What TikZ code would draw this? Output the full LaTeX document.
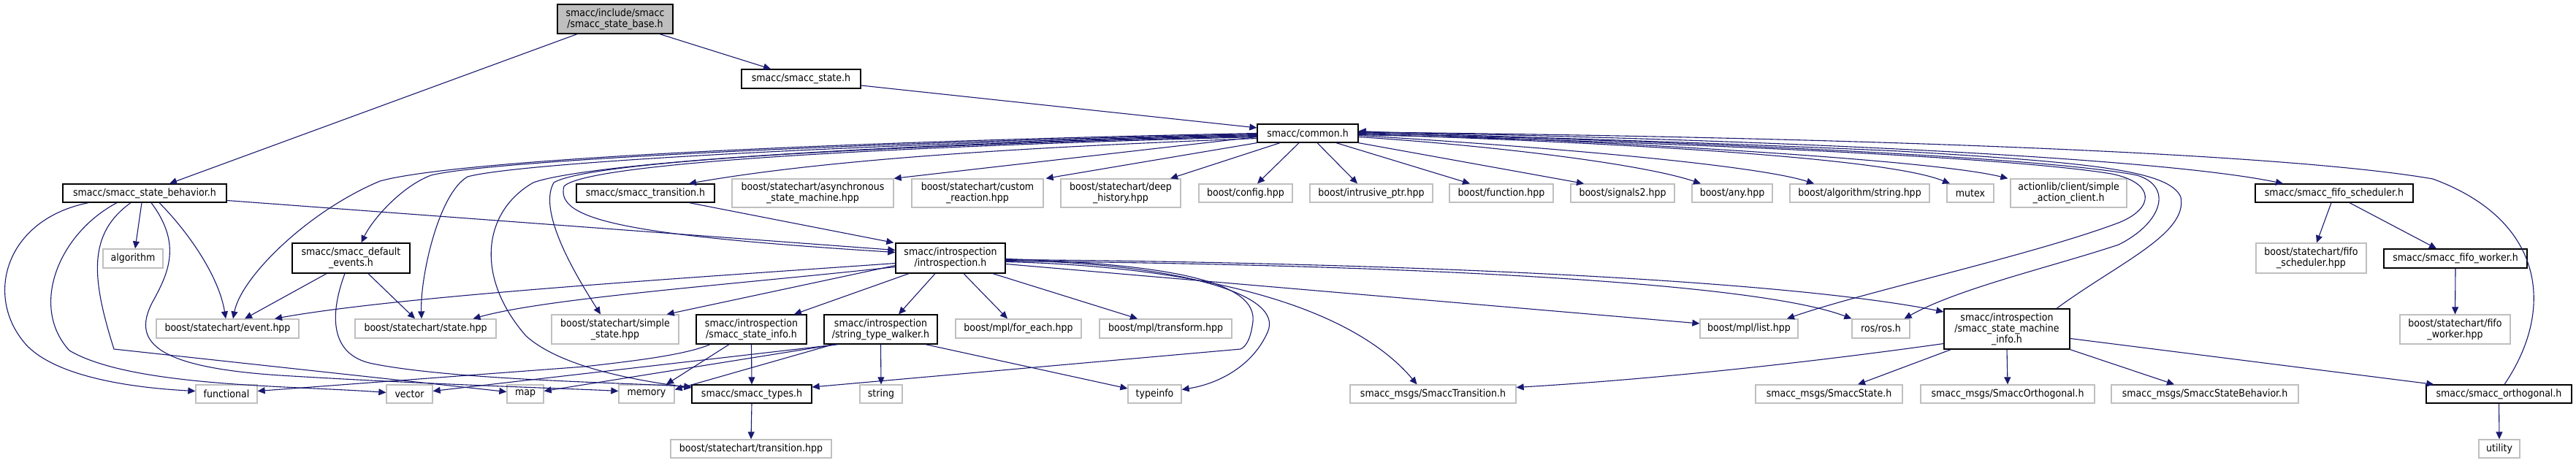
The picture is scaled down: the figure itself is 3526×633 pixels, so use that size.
\documentclass[tikz,border=0pt]{standalone}
\usepackage{fontspec}
\setmainfont{DejaVu Sans}[FakeStretch=0.9]
\usetikzlibrary{arrows.meta}

\definecolor{edgeblue}{HTML}{191970}
\definecolor{boxgray}{HTML}{BFBFBF}

\begin{document}
\begin{tikzpicture}[
    x=1pt, y=-1pt,
    font=\fontsize{14}{15}\selectfont,
    hdr/.style={rectangle, draw=black, line width=1.3pt, fill=white,
      inner sep=0pt, align=center, minimum height=25},
    sys/.style={rectangle, draw=boxgray, line width=1.3pt, fill=white,
      inner sep=0pt, align=center, minimum height=25},
    dep/.style={draw=edgeblue, line width=1.1pt, -{Triangle[length=10pt,width=9pt]}}
  ]
  \fill[white] (0,0) rectangle (3526,633);
  \useasboundingbox (0,0) rectangle (3526,633);

  % top
  \node[hdr, fill=boxgray, minimum width=158, minimum height=40] (root) at (842,26) {smacc/include/smacc\\/smacc\_state\_base.h};
  \node[hdr, minimum width=163, minimum height=26] (state) at (1096.5,108) {smacc/smacc\_state.h};
  \node[hdr, minimum width=138] (common) at (1790,182.5) {smacc/common.h};

  % first row
  \node[hdr, minimum width=224] (behav) at (198,264.5) {smacc/smacc\_state\_behavior.h};
  \node[hdr, minimum width=189] (trans) at (883.5,264.5) {smacc/smacc\_transition.h};
  \node[sys, minimum width=221, minimum height=39] (async) at (1112.5,264.5) {boost/statechart/asynchronous\\\_state\_machine.hpp};
  \node[sys, minimum width=180, minimum height=39] (custom) at (1338,264.5) {boost/statechart/custom\\\_reaction.hpp};
  \node[sys, minimum width=164, minimum height=39] (deep) at (1534,264.5) {boost/statechart/deep\\\_history.hpp};
  \node[sys, minimum width=128] (config) at (1705,264.5) {boost/config.hpp};
  \node[sys, minimum width=168] (intrusive) at (1877,264.5) {boost/intrusive\_ptr.hpp};
  \node[sys, minimum width=142] (function) at (2055,264.5) {boost/function.hpp};
  \node[sys, minimum width=142] (signals) at (2221,264.5) {boost/signals2.hpp};
  \node[sys, minimum width=110] (any) at (2371,264.5) {boost/any.hpp};
  \node[sys, minimum width=191] (algstr) at (2545.5,264.5) {boost/algorithm/string.hpp};
  \node[sys, minimum width=64] (mutex) at (2697,264.5) {mutex};
  \node[sys, minimum width=159, minimum height=39] (actionlib) at (2831.5,264.5) {actionlib/client/simple\\\_action\_client.h};
  \node[hdr, minimum width=216] (fifosch) at (3195,264.5) {smacc/smacc\_fifo\_scheduler.h};

  % second row
  \node[sys, minimum width=82, minimum height=26] (algorithm) at (182,354) {algorithm};
  \node[hdr, minimum width=161, minimum height=41] (defev) at (480.5,353.5) {smacc/smacc\_default\\\_events.h};
  \node[hdr, minimum width=150, minimum height=41] (intro) at (1301,353.5) {smacc/introspection\\/introspection.h};
  \node[sys, minimum width=151, minimum height=41] (fifoschhpp) at (3163.5,353.5) {boost/statechart/fifo\\\_scheduler.hpp};
  \node[hdr, minimum width=196, minimum height=26] (fifowrk) at (3361,354) {smacc/smacc\_fifo\_worker.h};

  % third row
  \node[sys, minimum width=195, minimum height=26] (event) at (311.5,450) {boost/statechart/event.hpp};
  \node[sys, minimum width=193, minimum height=26] (statehpp) at (582.5,450) {boost/statechart/state.hpp};
  \node[sys, minimum width=174, minimum height=40] (simple) at (842,451) {boost/statechart/simple\\\_state.hpp};
  \node[hdr, minimum width=151, minimum height=40] (sinfo) at (1028.5,451) {smacc/introspection\\/smacc\_state\_info.h};
  \node[hdr, minimum width=155, minimum height=40] (walker) at (1205.5,451) {smacc/introspection\\/string\_type\_walker.h};
  \node[sys, minimum width=172, minimum height=26] (foreach) at (1394,450) {boost/mpl/for\_each.hpp};
  \node[sys, minimum width=181, minimum height=26] (transform) at (1595.5,450) {boost/mpl/transform.hpp};
  \node[sys, minimum width=134, minimum height=26] (mpllist) at (2394,450) {boost/mpl/list.hpp};
  \node[sys, minimum width=79, minimum height=26] (ros) at (2574.5,450) {ros/ros.h};
  \node[hdr, minimum width=172, minimum height=55] (sminfo) at (2747,450.5) {smacc/introspection\\/smacc\_state\_machine\\\_info.h};
  \node[sys, minimum width=151, minimum height=40] (fifowrkhpp) at (3360.5,451) {boost/statechart/fifo\\\_worker.hpp};

  % fourth row
  \node[sys, minimum width=84] (functional) at (310,539.5) {functional};
  \node[sys, minimum width=63] (vector) at (560.5,539.5) {vector};
  \node[sys, minimum width=50] (map) at (719,539.5) {map};
  \node[sys, minimum width=76] (memory) at (885,539.5) {memory};
  \node[hdr, minimum width=164] (types) at (1029,539.5) {smacc/smacc\_types.h};
  \node[sys, minimum width=58] (string) at (1206,539.5) {string};
  \node[sys, minimum width=73] (typeinfo) at (1580.5,539.5) {typeinfo};
  \node[sys, minimum width=227] (msgtrans) at (1961.5,539.5) {smacc\_msgs/SmaccTransition.h};
  \node[sys, minimum width=201] (msgstate) at (2503.5,539.5) {smacc\_msgs/SmaccState.h};
  \node[sys, minimum width=238] (msgorth) at (2748,539.5) {smacc\_msgs/SmaccOrthogonal.h};
  \node[sys, minimum width=256] (msgbeh) at (3018,539.5) {smacc\_msgs/SmaccStateBehavior.h};
  \node[hdr, minimum width=199] (orth) at (3420.5,539.5) {smacc/smacc\_orthogonal.h};

  % bottom
  \node[sys, minimum width=220] (transhpp) at (1028,614.5) {boost/statechart/transition.hpp};
  \node[sys, minimum width=56] (utility) at (3421,614.5) {utility};

  % root and smacc_state.h
  \draw[dep] ([xshift=-52]root.south) -- ([xshift=34]behav.north);
  \draw[dep] ([xshift=61]root.south) -- ([xshift=-41.5]state.north);
  \draw[dep] ([yshift=-9]state.east) -- ([yshift=7.5]common.west);

  % common.h, first row
  \draw[dep] ([yshift=-7]common.west) .. controls (1450,200) and (1150,215) .. ([xshift=59.5]trans.north);
  \draw[dep] ([yshift=-5]common.west) -- (async.north east);
  \draw[dep] (common.south west) -- ([xshift=3]custom.north east);
  \draw[dep] ([xshift=-38]common.south) -- ([xshift=68]deep.north);
  \draw[dep] ([xshift=-12]common.south) -- ([xshift=16]config.north);
  \draw[dep] ([xshift=13]common.south) -- ([xshift=-19]intrusive.north);
  \draw[dep] ([xshift=39]common.south) -- ([xshift=-43]function.north);
  \draw[dep] (common.south east) -- ([xshift=-53]signals.north);
  \draw[dep] ([yshift=-5]common.east) .. controls (2050,200) and (2250,225) .. ([xshift=-43]any.north);
  \draw[dep] ([yshift=-3]common.east) .. controls (2100,200) and (2400,225) .. ([xshift=-62.5]algstr.north);
  \draw[dep] ([yshift=-1]common.east) .. controls (2200,195) and (2580,215) .. ([xshift=-28]mutex.north);
  \draw[dep] ([yshift=1]common.east) .. controls (2250,195) and (2650,220) .. ([xshift=-3]actionlib.north west);
  \draw[dep] ([yshift=2]common.east) .. controls (2400,190) and (2950,215) .. ([xshift=-70]fifosch.north);

  % includes back into common.h
  \draw[dep] ([xshift=7.5]orth.north) .. controls (3500,420) and (3480,300) .. (3330,245)
    .. controls (3100,205) and (2400,186) .. ([yshift=1.5]common.east);
  \draw[dep] ([xshift=68]sminfo.north) .. controls (2900,360) and (2995,320) .. (2985,270)
    .. controls (2970,232) and (2850,222) .. (2600,207)
    .. controls (2300,193) and (2000,186) .. ([yshift=3]common.east);

  % common.h loops to the right
  \draw[dep] ([yshift=-2]common.east) .. controls (2300,195) and (2750,215) .. (2890,238)
    .. controls (2950,250) and (2950,285) .. (2900,305)
    .. controls (2780,350) and (2550,400) .. ([xshift=52]mpllist.north);
  \draw[dep] (common.east) .. controls (2300,193) and (2800,215) .. (2925,240)
    .. controls (2975,255) and (2960,305) .. (2900,335)
    .. controls (2810,365) and (2680,395) .. ([xshift=32]ros.north);

  % common.h sweeps to the left
  \draw[dep] (common.west) .. controls (1100,195) and (620,220) .. (520,248)
    .. controls (420,290) and (330,380) .. ([xshift=7.5]event.north);
  \draw[dep] ([yshift=-1]common.west) .. controls (1100,197) and (660,222) .. (590,240)
    .. controls (550,255) and (510,300) .. ([xshift=14]defev.north);
  \draw[dep] ([yshift=-2]common.west) .. controls (1100,199) and (700,225) .. (640,242)
    .. controls (600,265) and (575,380) .. ([xshift=-5.5]statehpp.north);
  \draw[dep] ([yshift=-3]common.west) .. controls (1100,200) and (790,228) .. (730,250)
    .. controls (660,290) and (650,380) .. (720,460)
    .. controls (770,505) and (880,522) .. ([yshift=8.5]types.west);
  \draw[dep] ([yshift=-4]common.west) .. controls (1100,202) and (800,225) .. (758,250)
    .. controls (735,290) and (790,380) .. ([xshift=-20]simple.north);
  \draw[dep] ([yshift=-5]common.west) .. controls (1100,204) and (800,228) .. (772,255)
    .. controls (760,300) and (850,322) .. ([yshift=8]intro.west);

  % smacc_state_behavior.h
  \draw[dep] ([xshift=-77]behav.south) .. controls (10,300) and (-20,400) .. (30,465)
    .. controls (70,520) and (200,532) .. ([yshift=4]functional.west);
  \draw[dep] ([xshift=-38]behav.south) .. controls (80,320) and (40,420) .. (95,480)
    .. controls (180,530) and (400,528) .. ([yshift=2]vector.west);
  \draw[dep] ([xshift=-19]behav.south) .. controls (120,320) and (125,380) .. (156,478) -- ([yshift=3]map.west);
  \draw[dep] ([xshift=-4]behav.south) -- ([xshift=3]algorithm.north);
  \draw[dep] ([xshift=9]behav.south) .. controls (250,335) and (230,375) .. (208,415)
    .. controls (180,470) and (215,505) .. (400,515)
    .. controls (600,527) and (780,532) .. ([yshift=4]memory.west);
  \draw[dep] ([xshift=20]behav.south) .. controls (260,320) and (300,380) .. ([xshift=-2.5]event.north);
  \draw[dep] ([yshift=-10]behav.east) -- ([yshift=11]intro.west);

  % default events, transition
  \draw[dep] ([xshift=-33.5]defev.south) -- ([xshift=23.5]event.north);
  \draw[dep] ([xshift=23.5]defev.south) -- ([xshift=-14.5]statehpp.north);
  \draw[dep] ([xshift=-8.5]defev.south) .. controls (455,420) and (445,485) .. (510,498)
    .. controls (620,520) and (850,524) .. ([yshift=10]types.west);
  \draw[dep] ([xshift=60]trans.south) -- ([xshift=-2]intro.north west);

  % introspection.h
  \draw[dep] ([yshift=-10]intro.west) -- ([xshift=-17]simple.north east);
  \draw[dep] ([yshift=-12]intro.west) .. controls (1000,390) and (750,408) .. ([xshift=65]statehpp.north);
  \draw[dep] ([yshift=-7]intro.west) .. controls (950,380) and (550,405) .. ([xshift=64.5]event.north);
  \draw[dep] ([xshift=-57]intro.south) -- ([xshift=58.5]sinfo.north);
  \draw[dep] ([xshift=-21]intro.south) -- ([xshift=24.5]walker.north);
  \draw[dep] ([xshift=18]intro.south) -- ([xshift=-15]foreach.north);
  \draw[dep] ([xshift=58]intro.south) -- ([xshift=-38.5]transform.north);
  \draw[dep] ([yshift=-8]intro.east) -- ([yshift=7]mpllist.west);
  \draw[dep] ([yshift=-4]intro.east) .. controls (1900,362) and (2400,385) .. (ros.north west);
  \draw[dep] ([yshift=-2]intro.east) .. controls (1950,360) and (2450,385) .. ([yshift=23.5]sminfo.west);
  \draw[dep] ([yshift=-5]intro.east) .. controls (1650,365) and (1850,420) .. ([xshift=-22]msgtrans.north);
  \draw[dep] ([yshift=-3]intro.east) .. controls (1600,360) and (1760,400) .. (1735,455)
    .. controls (1715,500) and (1670,525) .. ([yshift=6]typeinfo.east);
  \draw[dep] ([yshift=-1]intro.east) .. controls (1620,362) and (1720,390) .. (1715,440)
    .. controls (1712,465) and (1705,475) .. (1698,478) -- ([yshift=9.5]types.east);

  % state machine info
  \draw[dep] ([yshift=-20]sminfo.west) .. controls (2450,500) and (2250,520) .. ([yshift=9]msgtrans.east);
  \draw[dep] ([xshift=10]sminfo.south west) -- ([xshift=39.5]msgstate.north);
  \draw[dep] (sminfo.south) -- (msgorth.north);
  \draw[dep] (sminfo.south east) -- ([xshift=-42]msgbeh.north);
  \draw[dep] ([yshift=-13]sminfo.east) -- ([xshift=11]orth.north west);

  % state info, type walker
  \draw[dep] ([xshift=-56.5]sinfo.south) .. controls (940,485) and (880,493) .. (800,502) -- ([yshift=4]functional.east);
  \draw[dep] ([xshift=-30.5]sinfo.south) -- ([xshift=27]memory.north);
  \draw[dep] (sinfo.south) -- (types.north);
  \draw[dep] (walker.south) -- (string.north);
  \draw[dep] ([xshift=61.5]walker.south) -- ([yshift=7.5]typeinfo.west);
  \draw[dep] ([xshift=-58.5]walker.south) -- ([yshift=4]vector.east);
  \draw[dep] ([xshift=-61.5]walker.south) -- ([yshift=4]map.east);
  \draw[dep] ([xshift=-65]walker.south) -- ([yshift=6]memory.east);

  % fifo, orthogonal, types
  \draw[dep] ([xshift=-4]fifosch.south) -- ([xshift=7.5]fifoschhpp.north);
  \draw[dep] ([xshift=21]fifosch.south) -- ([xshift=-26]fifowrk.north);
  \draw[dep] (fifowrk.south) -- (fifowrkhpp.north);
  \draw[dep] (types.south) -- (transhpp.north);
  \draw[dep] (orth.south) -- (utility.north);
\end{tikzpicture}
\end{document}
